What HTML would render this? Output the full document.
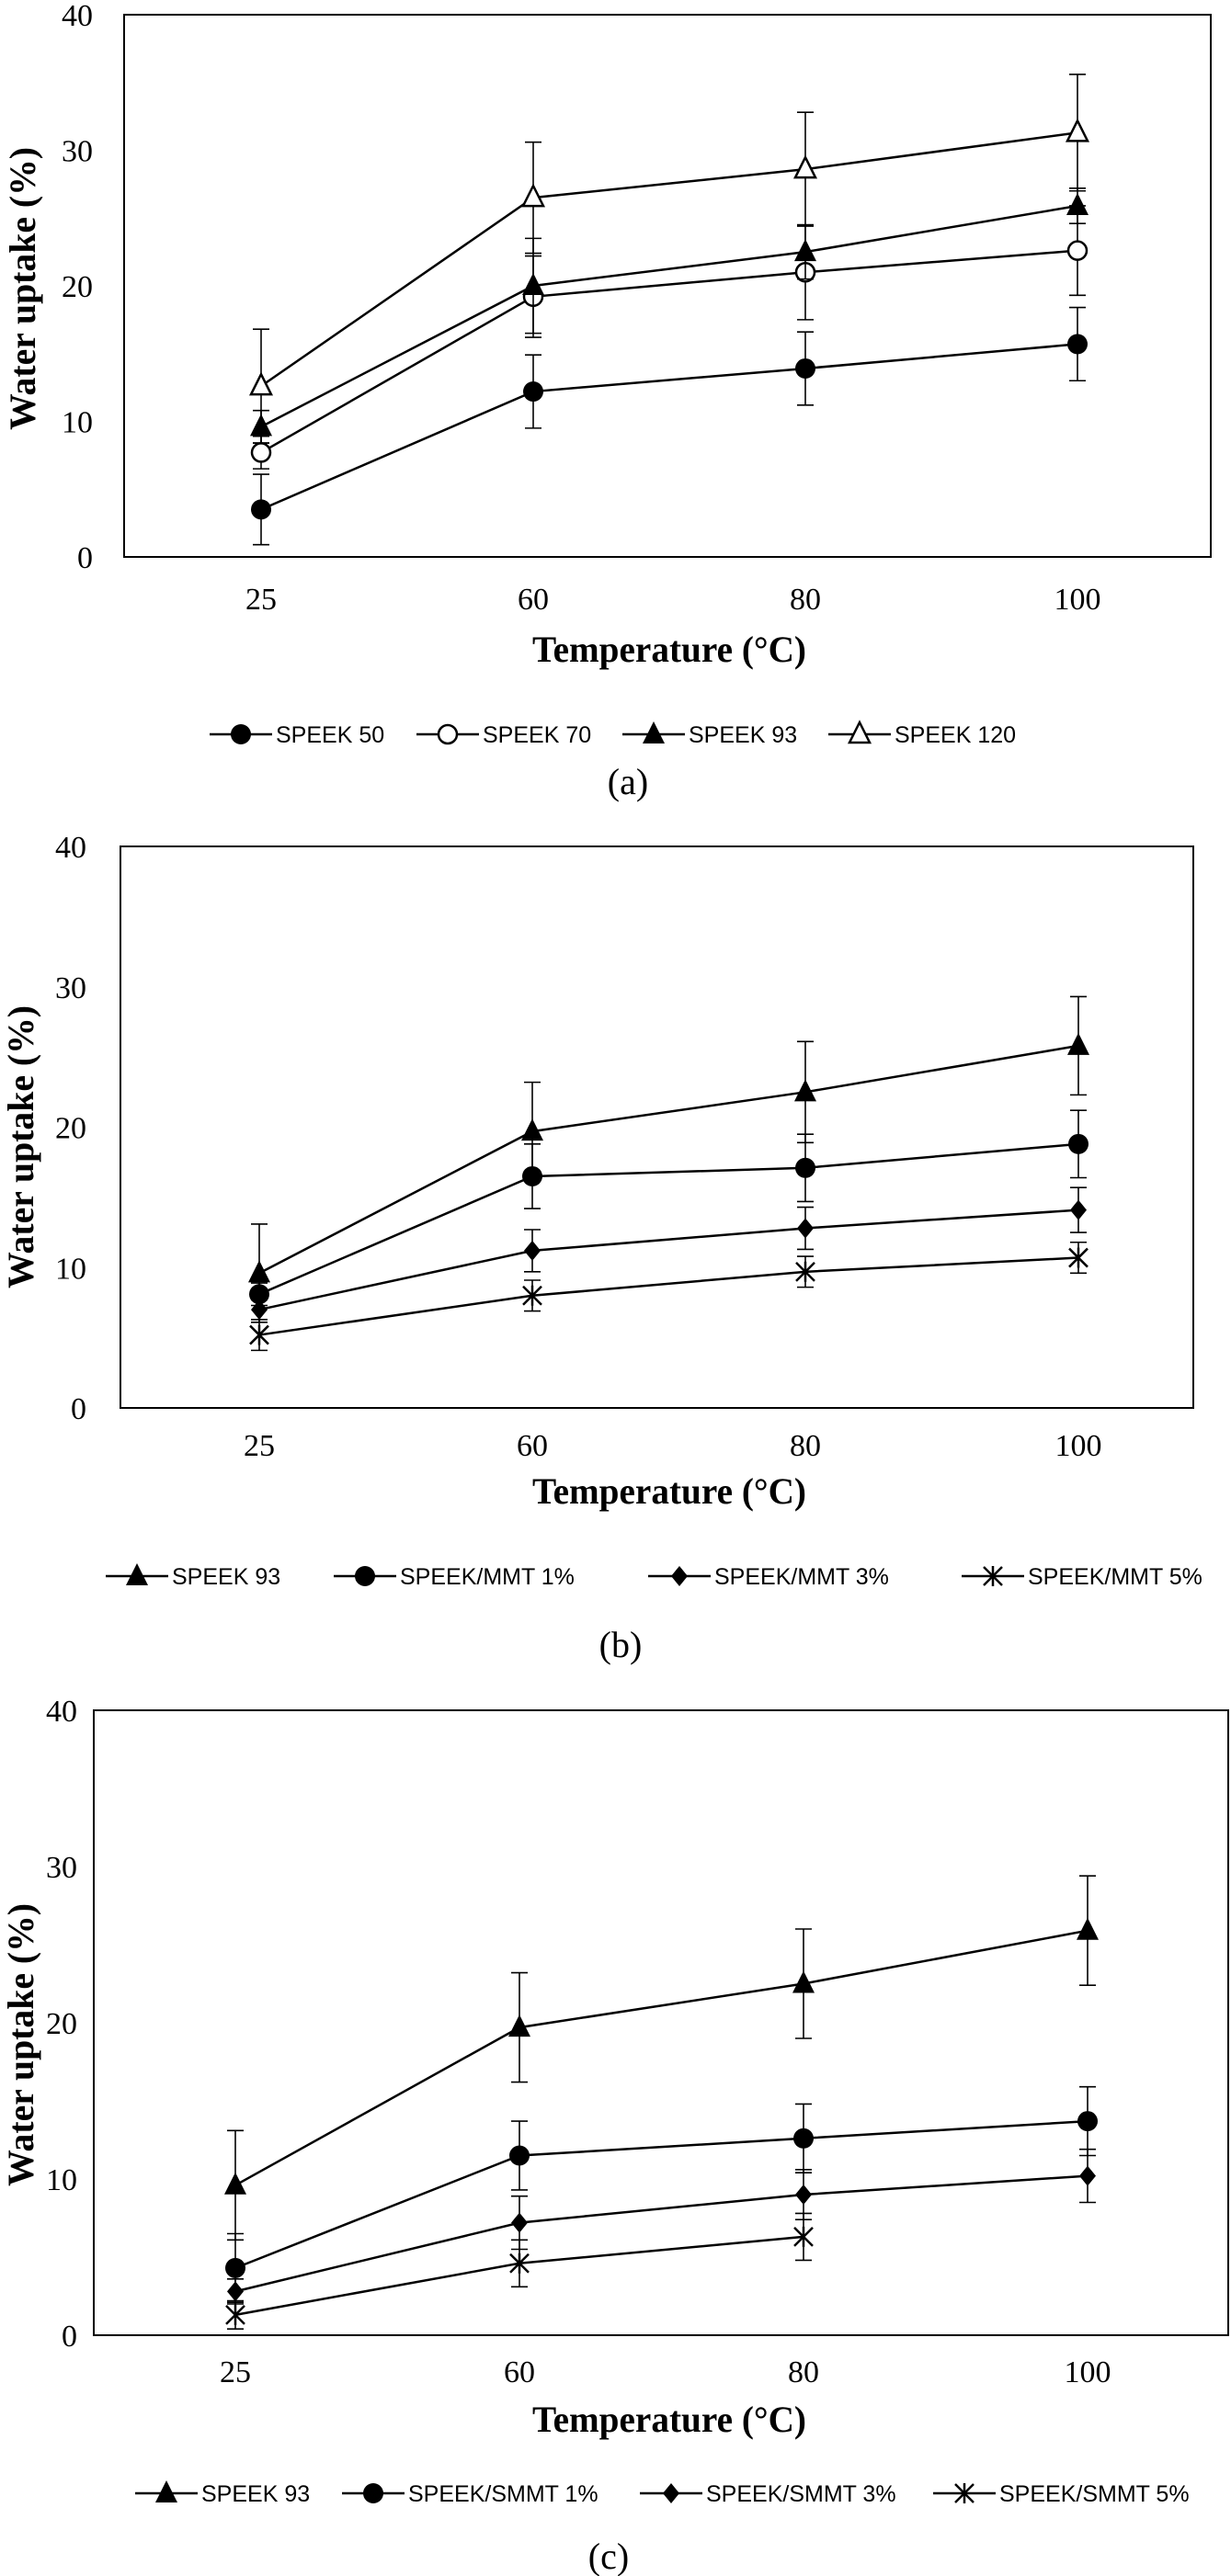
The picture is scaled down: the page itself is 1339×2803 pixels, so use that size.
<!DOCTYPE html>
<html><head><meta charset="utf-8"><style>
html,body{margin:0;padding:0;background:#fff;}
svg{display:block;}
.tick{font-family:"Liberation Serif",serif;font-size:34px;fill:#000;}
.title{font-family:"Liberation Serif",serif;font-size:40px;font-weight:bold;fill:#000;}
.leg{font-family:"Liberation Sans",sans-serif;font-size:25px;fill:#000;}
.sub{font-family:"Liberation Serif",serif;font-size:40px;fill:#000;}
</style></head><body>
<svg id="fig" width="1339" height="2803" viewBox="0 0 1339 2803" xmlns="http://www.w3.org/2000/svg"></svg>
<script>
const categories = ["25","60","80","100"];
const yTicks = [0,10,20,30,40];
// Panel (a)
const aNames = ["SPEEK 50","SPEEK 70","SPEEK 93","SPEEK 120"];
const aSpeek50 = [3.5,12.2,13.9,15.7];
const aSpeek50Err = [2.6,2.7,2.7,2.7];
const aSpeek70 = [7.7,19.2,21.0,22.6];
const aSpeek70Err = [1.2,3.0,3.5,3.3];
const aSpeek93 = [9.6,20.0,22.5,25.9];
const aSpeek93Err = [1.2,3.5,2.0,1.3];
const aSpeek120 = [12.6,26.5,28.6,31.3];
const aSpeek120Err = [4.2,4.1,4.2,4.3];
// Panel (b)
const bNames = ["SPEEK 93","SPEEK/MMT 1%","SPEEK/MMT 3%","SPEEK/MMT 5%"];
const bSpeek93 = [9.6,19.7,22.5,25.8];
const bSpeek93Err = [3.5,3.5,3.6,3.5];
const bMmt1 = [8.1,16.5,17.1,18.8];
const bMmt1Err = [0.8,2.3,2.4,2.4];
const bMmt3 = [7.0,11.2,12.8,14.1];
const bMmt3Err = [0.7,1.5,1.5,1.6];
const bMmt5 = [5.2,8.0,9.7,10.7];
const bMmt5Err = [1.1,1.1,1.1,1.1];
// Panel (c)
const cNames = ["SPEEK 93","SPEEK/SMMT 1%","SPEEK/SMMT 3%","SPEEK/SMMT 5%"];
const cSpeek93 = [9.6,19.7,22.5,25.9];
const cSpeek93Err = [3.5,3.5,3.5,3.5];
const cSmmt1 = [4.3,11.5,12.6,13.7];
const cSmmt1Err = [2.2,2.2,2.2,2.2];
const cSmmt3 = [2.8,7.2,9.0,10.2];
const cSmmt3Err = [0.8,1.7,1.6,1.7];
const cSmmt5 = [1.3,4.6,6.3,null];
const cSmmt5Err = [0.9,1.5,1.5,null];

const NS="http://www.w3.org/2000/svg";
const svg=document.getElementById('fig');
function mk(tag,attrs,parent){const e=document.createElementNS(NS,tag);for(const k in attrs)e.setAttribute(k,attrs[k]);(parent||svg).appendChild(e);return e;}

function marker(g,type,x,y){
  let m;
  if(type==='circle'){m=mk('circle',{cx:x,cy:y,r:11,fill:'#000'},g);}
  else if(type==='ocircle'){m=mk('circle',{cx:x,cy:y,r:10,fill:'#fff',stroke:'#000','stroke-width':2.5},g);}
  else if(type==='tri'){m=mk('polygon',{points:`${x},${y-14} ${x-12},${y+10} ${x+12},${y+10}`,fill:'#000'},g);}
  else if(type==='otri'){m=mk('polygon',{points:`${x},${y-13} ${x-11},${y+9} ${x+11},${y+9}`,fill:'#fff',stroke:'#000','stroke-width':2.5},g);}
  else if(type==='diamond'){m=mk('polygon',{points:`${x},${y-11} ${x+9},${y} ${x},${y+11} ${x-9},${y}`,fill:'#000'},g);}
  else {m=mk('g',{},g);
    mk('line',{x1:x-10,y1:y-10,x2:x+10,y2:y+10,stroke:'#000','stroke-width':2.5},m);
    mk('line',{x1:x-10,y1:y+10,x2:x+10,y2:y-10,stroke:'#000','stroke-width':2.5},m);
    mk('line',{x1:x,y1:y-11,x2:x,y2:y+11,stroke:'#000','stroke-width':2.5},m);}
  return m;
}

function drawPanel(p){
  const g=mk('g',{});
  
  
  const yS=v=>p.bottom-(v/40)*(p.bottom-p.top);
  const xS=i=>p.x0+i*p.step;
  const frame=mk('rect',{x:p.left,y:p.top,width:p.right-p.left,height:p.bottom-p.top,fill:'none',stroke:'#000','stroke-width':2},g);
  
  
  yTicks.forEach(t=>{
    const tx=mk('text',{x:p.yTickRight,y:yS(t)+12,'text-anchor':'end',class:'tick'},g);
    tx.textContent=t;
    
    
  });
  categories.forEach((c,i)=>{
    const tx=mk('text',{x:xS(i),y:p.xTickY,'text-anchor':'middle',class:'tick'},g);
    tx.textContent=c;
    
    
  });
  const xt=mk('text',{x:728,y:p.xTitleY,'text-anchor':'middle',class:'title',textLength:298,lengthAdjust:'spacingAndGlyphs'},g);
  xt.textContent='Temperature (°C)';
  
  
  const yt=mk('text',{x:0,y:0,'text-anchor':'middle',class:'title',textLength:308,lengthAdjust:'spacingAndGlyphs',transform:`translate(${p.yTitleX},${p.yTitleC}) rotate(-90)`},g);
  yt.textContent='Water uptake (%)';
  
  
  p.series.forEach((s,si)=>{
    const sg=mk('g',{},g);
    
    
    const pts=[];
    s.vals.forEach((v,i)=>{if(v!==null)pts.push([xS(i),yS(v)]);});
    mk('polyline',{points:pts.map(q=>q.join(',')).join(' '),fill:'none',stroke:'#000','stroke-width':2.5},sg);
    s.vals.forEach((v,i)=>{
      if(v===null)return;
      const e=s.err[i],x=xS(i);
      const eb=mk('g',{},sg);
      
      
      mk('line',{x1:x,y1:yS(v+e),x2:x,y2:yS(v-e),stroke:'#000','stroke-width':1.6},eb);
      mk('line',{x1:x-9,y1:yS(v+e),x2:x+9,y2:yS(v+e),stroke:'#000','stroke-width':1.6},eb);
      mk('line',{x1:x-9,y1:yS(v-e),x2:x+9,y2:yS(v-e),stroke:'#000','stroke-width':1.6},eb);
    });
    s.vals.forEach((v,i)=>{
      if(v===null)return;
      const m=marker(sg,s.marker,xS(i),yS(v));
      
      
    });
    // legend
    const lg=mk('g',{},g);
    
    
    const mx=p.legMarkers[si],ly=p.legY-9;
    mk('line',{x1:mx-34,y1:ly,x2:mx+34,y2:ly,stroke:'#000','stroke-width':2.5},lg);
    marker(lg,s.marker,mx,ly);
    const lt=mk('text',{x:mx+38,y:p.legY,class:'leg'},lg);
    lt.textContent=s.label;
  });
  const sub=mk('text',{x:p.subX,y:p.subY,'text-anchor':'middle',class:'sub'},g);
  sub.textContent=p.subLabel;
  
  
}

drawPanel({name:'chart-a',left:135,right:1317,top:16,bottom:606,x0:284,step:296,yTickRight:101,xTickY:663,xTitleY:720,yTitleX:38,yTitleC:314,legY:808,legMarkers:[262,487,711,935],subX:683,subY:864,subLabel:'(a)',
  series:[{label:aNames[0],vals:aSpeek50,err:aSpeek50Err,marker:'circle'},
          {label:aNames[1],vals:aSpeek70,err:aSpeek70Err,marker:'ocircle'},
          {label:aNames[2],vals:aSpeek93,err:aSpeek93Err,marker:'tri'},
          {label:aNames[3],vals:aSpeek120,err:aSpeek120Err,marker:'otri'}]});
drawPanel({name:'chart-b',left:131,right:1298,top:921,bottom:1532,x0:282,step:297,yTickRight:94,xTickY:1584,xTitleY:1636,yTitleX:36,yTitleC:1248,legY:1724,legMarkers:[149,397,739,1080],subX:675,subY:1803,subLabel:'(b)',
  series:[{label:bNames[0],vals:bSpeek93,err:bSpeek93Err,marker:'tri'},
          {label:bNames[1],vals:bMmt1,err:bMmt1Err,marker:'circle'},
          {label:bNames[2],vals:bMmt3,err:bMmt3Err,marker:'diamond'},
          {label:bNames[3],vals:bMmt5,err:bMmt5Err,marker:'star'}]});
drawPanel({name:'chart-c',left:102,right:1336,top:1861,bottom:2541,x0:256,step:309,yTickRight:84,xTickY:2592,xTitleY:2646,yTitleX:36,yTitleC:2225,legY:2722,legMarkers:[181,406,730,1049],subX:662,subY:2795,subLabel:'(c)',
  series:[{label:cNames[0],vals:cSpeek93,err:cSpeek93Err,marker:'tri'},
          {label:cNames[1],vals:cSmmt1,err:cSmmt1Err,marker:'circle'},
          {label:cNames[2],vals:cSmmt3,err:cSmmt3Err,marker:'diamond'},
          {label:cNames[3],vals:cSmmt5,err:cSmmt5Err,marker:'star'}]});
</script>
</body></html>
